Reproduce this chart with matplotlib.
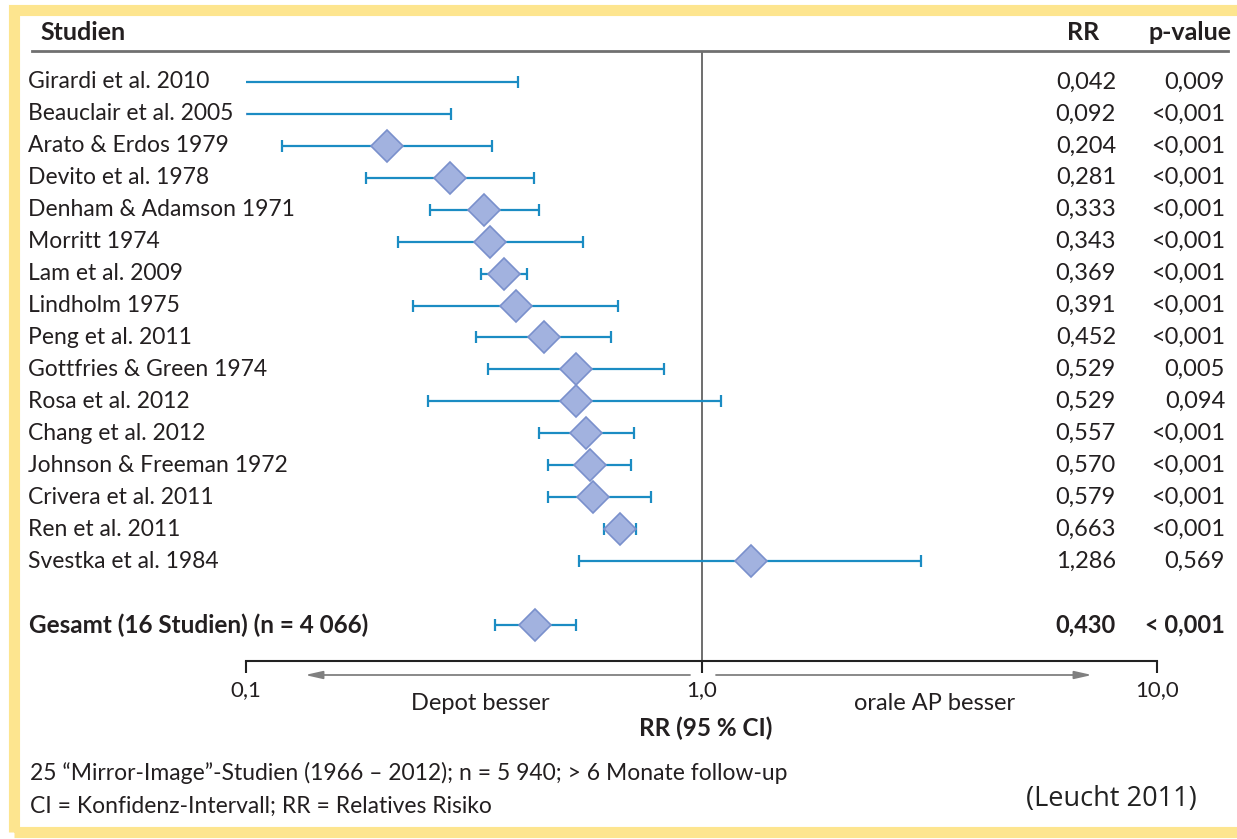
import numpy as np
import matplotlib.pyplot as plt
import matplotlib.transforms as mtransforms
from matplotlib.lines import Line2D
from matplotlib.patches import Rectangle

plt.rcParams['font.family'] = ['Lato', 'DejaVu Sans']

# Studies, relative risks and 95% confidence limits
studies = ['Girardi et al. 2010', 'Beauclair et al. 2005', 'Arato & Erdos 1979',
           'Devito et al. 1978', 'Denham & Adamson 1971', 'Morritt 1974',
           'Lam et al. 2009', 'Lindholm 1975', 'Peng et al. 2011',
           'Gottfries & Green 1974', 'Rosa et al. 2012', 'Chang et al. 2012',
           'Johnson & Freeman 1972', 'Crivera et al. 2011', 'Ren et al. 2011',
           'Svestka et al. 1984']
rr = [0.042, 0.092, 0.204, 0.281, 0.333, 0.343, 0.369, 0.391, 0.452,
      0.529, 0.529, 0.557, 0.570, 0.579, 0.663, 1.286]
ci_low = [0.005, 0.030, 0.120, 0.183, 0.254, 0.216, 0.328, 0.233, 0.320,
          0.340, 0.251, 0.440, 0.460, 0.460, 0.610, 0.538]
ci_high = [0.396, 0.282, 0.347, 0.429, 0.440, 0.549, 0.414, 0.655, 0.632,
           0.826, 1.106, 0.710, 0.699, 0.773, 0.717, 3.03]
p_values = ['0,009', '<0,001', '<0,001', '<0,001', '<0,001', '<0,001',
            '<0,001', '<0,001', '<0,001', '0,005', '0,094', '<0,001',
            '<0,001', '<0,001', '<0,001', '0,569']

total_label = 'Gesamt (16 Studien) (n = 4 066)'
total_rr = 0.430
total_low = 0.352
total_high = 0.530
total_p = '< 0,001'

ticks = [0.1, 1.0, 10.0]
tick_labels = ['0,1', '1,0', '10,0']

W, H = 1237, 839
line_col = '#1b8cc3'
dia_face = '#a2b2df'
dia_edge = '#7a90cc'
txt_col = '#231f20'


def fx(x):
    return x / W


def fy(y):
    return 1 - y / H


def fmt(v):
    return f'{v:.3f}'.replace('.', ',')


fig = plt.figure(figsize=(W / 100, H / 100), dpi=100)
fig.patch.set_facecolor('white')

# plotting area between the header rule and the RR axis
ax = fig.add_axes([fx(246), fy(661), fx(1157) - fx(246), fy(51) - fy(661)])
ax.set_xscale('log')
ax.set_xlim(0.1, 10)
rows = np.arange(len(studies))
total_row = len(studies) + 1
ax.set_ylim(18.13, -0.97)
ax.patch.set_alpha(0)

for s in ['top', 'right', 'left']:
    ax.spines[s].set_visible(False)
ax.spines['bottom'].set_linewidth(1.5)
ax.spines['bottom'].set_color('#222222')
ax.set_yticks([])
ax.set_xticks(ticks)
ax.set_xticklabels(tick_labels)
ax.xaxis.set_minor_locator(plt.NullLocator())
ax.tick_params(axis='x', direction='out', length=8.5, width=1.5, color='#222222',
               pad=5, labelsize=16, labelcolor=txt_col)

ax.axvline(1.0, color='#555555', lw=1.2, zorder=1)

rr_all = np.array(rr + [total_rr])
lo_all = np.array(ci_low + [total_low])
hi_all = np.array(ci_high + [total_high])
y_all = np.append(rows, total_row)
ax.errorbar(rr_all, y_all, xerr=[rr_all - lo_all, hi_all - rr_all], fmt='none',
            ecolor=line_col, elinewidth=1.6, capsize=4.6, capthick=1.6, zorder=2)
ax.plot(rr_all, y_all, 'D', ms=16, mfc=dia_face, mec=dia_edge, mew=1.2,
        zorder=3, clip_on=True)

# text columns aligned with the rows
tr = mtransforms.blended_transform_factory(fig.transFigure, ax.transData)
for i, name in enumerate(studies):
    ax.text(fx(28), i, name, transform=tr, ha='left', va='center',
            fontsize=16.5, color=txt_col)
    ax.text(fx(1116), i, fmt(rr[i]), transform=tr, ha='right', va='center',
            fontsize=17, color=txt_col)
    ax.text(fx(1225), i, p_values[i], transform=tr, ha='right', va='center',
            fontsize=17, color=txt_col)
ax.text(fx(29), total_row, total_label, transform=tr, ha='left', va='center',
        fontsize=17.5, fontweight='bold', color=txt_col)
ax.text(fx(1116), total_row, fmt(total_rr), transform=tr, ha='right', va='center',
        fontsize=17, fontweight='bold', color=txt_col)
ax.text(fx(1225), total_row, total_p, transform=tr, ha='right', va='center',
        fontsize=17, fontweight='bold', color=txt_col)

# header
fig.text(fx(40), fy(33), 'Studien', ha='left', va='center', fontsize=18,
         fontweight='bold', color=txt_col)
fig.text(fx(1099), fy(33), 'RR', ha='right', va='center', fontsize=18,
         fontweight='bold', color=txt_col)
fig.text(fx(1148), fy(33), 'p-value', ha='left', va='center', fontsize=18,
         fontweight='bold', color=txt_col)
fig.add_artist(Line2D([fx(32), fx(1228)], [fy(51), fy(51)], color='#707070', lw=2))

# direction arrows under the axis
arrow_kw = dict(arrowstyle='-|>,head_length=0.8,head_width=0.18', color='#808080',
                lw=1.3, mutation_scale=13, shrinkA=0, shrinkB=0)
ax.annotate('', xy=(305, H - 675), xytext=(690, H - 675), xycoords='figure pixels',
            textcoords='figure pixels', arrowprops=arrow_kw, annotation_clip=False)
ax.annotate('', xy=(1092, H - 675), xytext=(716, H - 675), xycoords='figure pixels',
            textcoords='figure pixels', arrowprops=arrow_kw, annotation_clip=False)

fig.text(fx(480), fy(703), 'Depot besser', ha='center', va='center',
         fontsize=17, color=txt_col)
fig.text(fx(935), fy(703), 'orale AP besser', ha='center', va='center',
         fontsize=17, color=txt_col)
fig.text(fx(706), fy(728), 'RR (95 % CI)', ha='center', va='center',
         fontsize=17.5, fontweight='bold', color=txt_col)

# footnotes
fig.text(fx(30), fy(773),
         '25 \u201cMirror-Image\u201d-Studien (1966 \u2013 2012); n = 5 940; > 6 Monate follow-up',
         ha='left', va='center', fontsize=16.5, color=txt_col)
fig.text(fx(30), fy(806), 'CI = Konfidenz-Intervall; RR = Relatives Risiko',
         ha='left', va='center', fontsize=16.5, color=txt_col)
fig.text(fx(1111), fy(799), '(Leucht 2011)', ha='center', va='center',
         fontsize=19.5, color='#222222', family=['Open Sans', 'DejaVu Sans'])

# yellow frame
fig.add_artist(Rectangle((fx(14), fy(832)), fx(1260) - fx(14), fy(10) - fy(832),
                         fill=False, edgecolor='#fde58f', lw=8, clip_on=False))

fig.savefig('out.png', dpi=100)
